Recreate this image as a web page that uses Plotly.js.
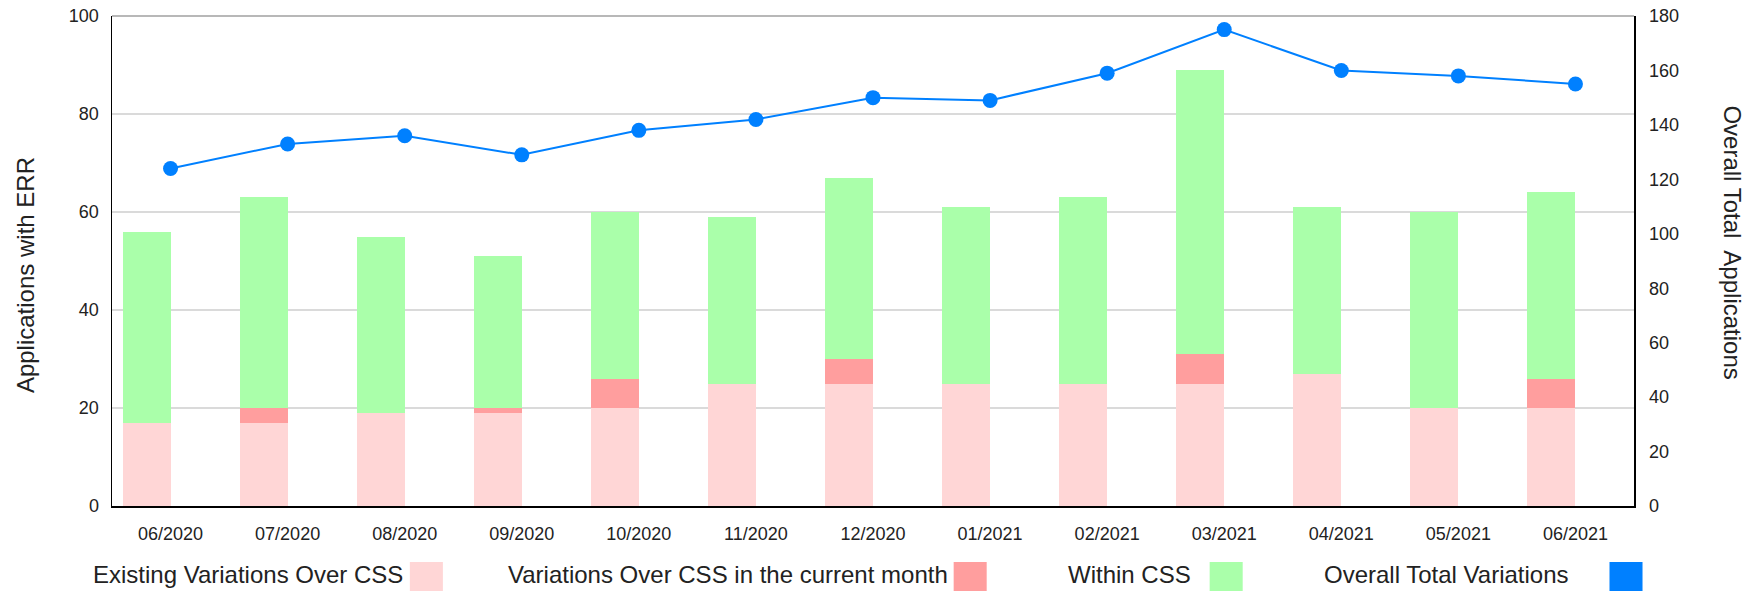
<!DOCTYPE html>
<html>
<head>
<meta charset="utf-8">
<script src="https://cdn.plot.ly/plotly-3.0.1.min.js"></script>
<style>
  html, body { margin: 0; padding: 0; background: #fff; }
  #chart { width: 1760px; height: 591px; }
</style>
</head>
<body>
<div id="chart"></div>
<script>
// ---- Data ----
const months = ["06/2020","07/2020","08/2020","09/2020","10/2020","11/2020","12/2020",
                "01/2021","02/2021","03/2021","04/2021","05/2021","06/2021"];
const existingOverCss = [17, 17, 19, 19, 20, 25, 25, 25, 25, 25, 27, 20, 20];
const currentMonthOverCss = [0, 3, 0, 1, 6, 0, 5, 0, 0, 6, 0, 0, 6];
const withinCss = [39, 43, 36, 31, 34, 34, 37, 36, 38, 58, 34, 40, 38];
const overallTotalVariations = [124, 133, 136, 129, 138, 142, 150, 149, 159, 175, 160, 158, 155];

const seriesNames = ["Existing Variations Over CSS", "Variations Over CSS in the current month",
                     "Within CSS", "Overall Total Variations"];
const seriesColors = ["#ffd6d6", "#ff9e9e", "#aaffaa", "#0080ff"];
const leftTitle = "Applications with ERR";
const rightTitle = "Overall Total  Applications";

const FONT = "'Liberation Sans', Arial, Helvetica, sans-serif";
const barW = 0.41;

function barTrace(vals, i) {
  return {
    type: "bar", x: months, y: vals, name: seriesNames[i],
    marker: { color: seriesColors[i], line: { width: 0 } },
    width: barW, offset: -barW, showlegend: false, hoverinfo: "y+name"
  };
}

const traces = [
  barTrace(existingOverCss, 0),
  barTrace(currentMonthOverCss, 1),
  barTrace(withinCss, 2),
  {
    type: "scatter", mode: "lines+markers", x: months, y: overallTotalVariations,
    name: seriesNames[3], yaxis: "y2", showlegend: false,
    line: { color: seriesColors[3], width: 2 },
    marker: { color: seriesColors[3], size: 15 }
  }
];

// ---- Custom legend (text then swatch, as in the reference) ----
const legendTextX = [-0.014, 0.2588, 0.6271, 0.7951];
const legendSwatchX = [0.1957, 0.5530, 0.7212, 0.9839];
const swW = 0.0217;
const legendY = -0.1408;

const annotations = [];
const shapes = [];
seriesNames.forEach((n, i) => {
  annotations.push({
    xref: "paper", yref: "paper", x: legendTextX[i], y: legendY,
    xanchor: "left", yanchor: "middle", showarrow: false, text: n,
    font: { family: FONT, size: 24, color: "#222" }
  });
  shapes.push({
    type: "rect", xref: "paper", yref: "paper",
    x0: legendSwatchX[i], x1: legendSwatchX[i] + swW, y0: -0.1143, y1: -0.1816,
    fillcolor: seriesColors[i], line: { width: 0 }
  });
});
annotations.push({
  xref: "paper", yref: "paper", x: -0.0571, y: 0.4714, textangle: -90,
  xanchor: "center", yanchor: "middle", showarrow: false, text: leftTitle,
  font: { family: FONT, size: 24, color: "#222" }
});
annotations.push({
  xref: "paper", yref: "paper", x: 1.0647, y: 0.537, textangle: 90,
  xanchor: "center", yanchor: "middle", showarrow: false, text: rightTitle,
  font: { family: FONT, size: 24, color: "#222" }
});
// top border of plot
shapes.push({
  type: "line", xref: "paper", yref: "paper", x0: 0, x1: 1, y0: 1, y1: 1,
  line: { color: "#a0a0a0", width: 1.5 }
});

const layout = {
  width: 1760, height: 591,
  margin: { l: 112, r: 125.5, t: 16, b: 85 },
  paper_bgcolor: "#fff", plot_bgcolor: "#fff",
  barmode: "stack",
  font: { family: FONT, size: 18, color: "#222" },
  showlegend: false,
  xaxis: {
    type: "category", range: [-0.5, months.length - 0.5], autorange: false,
    showgrid: false, zeroline: false,
    showline: true, linecolor: "#000", linewidth: 2,
    ticks: "", tickfont: { family: FONT, size: 18, color: "#222" },
    ticklabelstandoff: 10
  },
  yaxis: {
    range: [0, 100], dtick: 20, showgrid: true, gridcolor: "#dadada", gridwidth: 1.5,
    zeroline: false, showline: true, linecolor: "#000", linewidth: 1.5,
    ticks: "", tickfont: { family: FONT, size: 18, color: "#222" },
    ticklabelstandoff: 8
  },
  yaxis2: {
    overlaying: "y", side: "right", range: [0, 180], dtick: 20,
    showgrid: false, zeroline: false, showline: true, linecolor: "#000", linewidth: 1.5,
    ticks: "", tickfont: { family: FONT, size: 18, color: "#222" },
    ticklabelstandoff: 10
  },
  annotations: annotations,
  shapes: shapes
};

Plotly.newPlot("chart", traces, layout, { displayModeBar: false, staticPlot: true });
</script>
</body>
</html>
